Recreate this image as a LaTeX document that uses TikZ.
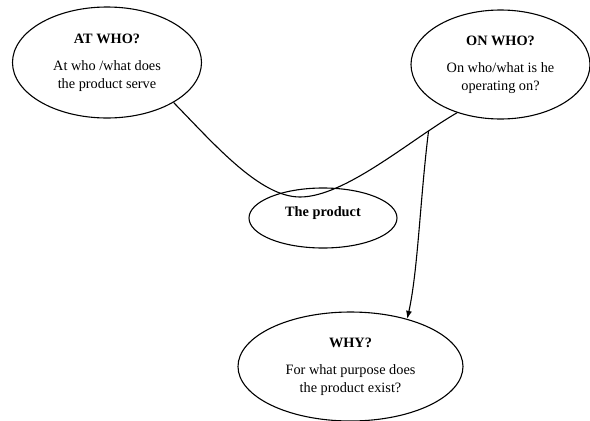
\documentclass[tikz,border=0pt]{standalone}
\usepackage{fontspec}
\setmainfont{Liberation Serif}
\usetikzlibrary{shapes.geometric,arrows.meta}
\tikzset{bubble/.style={draw,ellipse,line width=1.1pt,inner sep=0pt,align=center},
link/.style={line width=1.1pt}}
\begin{document}
\begin{tikzpicture}[x=1pt,y=-1pt,font=\fontsize{14.3}{17.5}\selectfont]
\useasboundingbox (0,0) rectangle (590,421);
\node[bubble,minimum width=189pt,minimum height=111pt] (at) at (107,62.5) {\textbf{AT WHO?}\\[10pt]At who /what does\\the product serve};
\node[bubble,minimum width=179pt,minimum height=109pt] (on) at (500.5,64.5) {\textbf{ON WHO?}\\[10pt]On who/what is he\\operating on?};
\node[bubble,minimum width=148pt,minimum height=60pt,text depth=12pt] (prod) at (323,218) {\textbf{The product}};
\node[bubble,minimum width=225pt,minimum height=109pt] (why) at (350.5,366.5) {\textbf{WHY?}\\[10pt]For what purpose does\\the product exist?};
\draw[link] (at.-31) .. controls (215,145) and (260,197) .. (300,197) .. controls (345,197) and (410,140) .. (on.-132) coordinate[pos=0.81] (fork);
\draw[link,-{Latex[length=8pt,width=6pt]}] (fork) .. controls (420,200) and (418,270) .. (why.40);
\end{tikzpicture}
\end{document}
